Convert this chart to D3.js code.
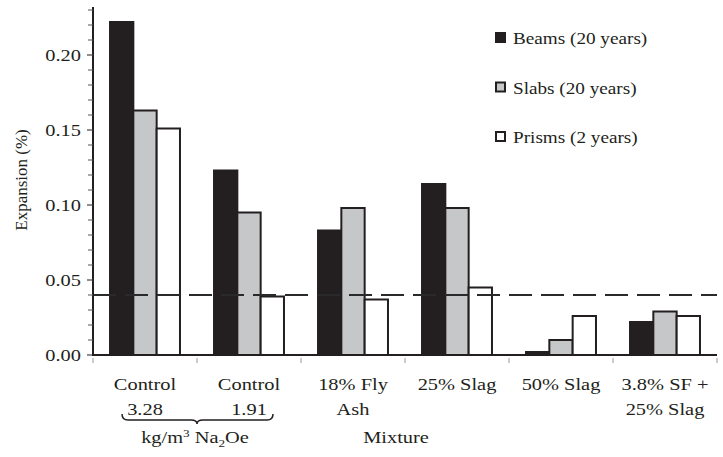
<!DOCTYPE html>
<html>
<head>
<meta charset="utf-8">
<script src="https://cdn.jsdelivr.net/npm/d3@7"></script>
<style>
  html, body { margin: 0; padding: 0; background: #fff; }
  svg { display: block; }
  text { font-family: "Liberation Serif", "DejaVu Serif", serif; fill: #231f20; }
</style>
</head>
<body>
<svg id="chart" width="723" height="457"></svg>
<script>
// Mixtures (two label lines each)
const categories = ["Control 3.28", "Control 1.91", "18% Fly Ash", "25% Slag", "50% Slag", "3.8% SF + 25% Slag"];
const labelLine1 = ["Control", "Control", "18% Fly", "25% Slag", "50% Slag", "3.8% SF +"];
const labelLine2 = ["3.28", "1.91", "Ash", "", "", "25% Slag"];

// Series
const seriesNames = ["Beams (20 years)", "Slabs (20 years)", "Prisms (2 years)"];
const beams  = [0.222, 0.123, 0.083, 0.114, 0.002, 0.022];
const slabs  = [0.163, 0.095, 0.098, 0.098, 0.010, 0.029];
const prisms = [0.151, 0.039, 0.037, 0.045, 0.026, 0.026];
const seriesValues = [beams, slabs, prisms];

// Expansion limit
const limit = [0.04];

// Axis ticks
const yMinorTicks = [0.01, 0.02, 0.03, 0.04, 0.06, 0.07, 0.08, 0.09, 0.11, 0.12, 0.13, 0.14,
                     0.16, 0.17, 0.18, 0.19, 0.21, 0.22, 0.23];
const yMajorTicks = [0.00, 0.05, 0.10, 0.15, 0.20];
const yTickLabels = ["0.00", "0.05", "0.10", "0.15", "0.20"];

const ink = "#231f20";
const fills = [ink, "#c6c7c9", "#ffffff"];
const SX = 1.2; // horizontal stretch of the serif lettering

const svg = d3.select("#chart");

const x0 = d3.scaleBand().domain(categories).range([93, 717]).paddingInner(0).paddingOuter(0);
const x1 = d3.scaleBand().domain(seriesNames).range([0, x0.bandwidth()]).paddingInner(0).paddingOuter(0.73);
const y = d3.scaleLinear().domain([0, 0.232]).range([355, 7]);

function label(g, x, yy, str, size, anchor) {
  return g.append("text")
    .attr("transform", `translate(${x},${yy}) scale(${SX},1)`)
    .attr("text-anchor", anchor || "middle")
    .style("font-size", size + "px")
    .text(str);
}

// Bars
const groups = svg.append("g").selectAll("g")
  .data(categories)
  .join("g")
  .attr("transform", d => `translate(${x0(d)},0)`);

groups.selectAll("rect")
  .data((d, i) => seriesNames.map((s, j) => ({ s, j, v: seriesValues[j][i] })))
  .join("rect")
  .attr("x", d => x1(d.s))
  .attr("y", d => y(d.v))
  .attr("width", x1.bandwidth())
  .attr("height", d => y(0) - y(d.v))
  .attr("fill", d => fills[d.j])
  .attr("stroke", ink)
  .attr("stroke-width", 2);

// Dashed limit line
svg.append("g").selectAll("line")
  .data(limit)
  .join("line")
  .attr("x1", 93).attr("x2", 717)
  .attr("y1", d => y(d)).attr("y2", d => y(d))
  .attr("stroke", "#2a2a2a")
  .attr("stroke-width", 2)
  .attr("stroke-dasharray", "23,9");

// Y axis
const yAxis = svg.append("g");
yAxis.append("line")
  .attr("x1", 93).attr("x2", 93)
  .attr("y1", y(0.232)).attr("y2", y(0) + 1)
  .attr("stroke", ink).attr("stroke-width", 2);
yAxis.selectAll("line.minor")
  .data(yMinorTicks)
  .join("line")
  .attr("class", "minor")
  .attr("x1", 88).attr("x2", 93)
  .attr("y1", d => y(d)).attr("y2", d => y(d))
  .attr("stroke", "#555").attr("stroke-width", 1);
yAxis.selectAll("line.major")
  .data(yMajorTicks)
  .join("line")
  .attr("class", "major")
  .attr("x1", 87).attr("x2", 93)
  .attr("y1", d => y(d)).attr("y2", d => y(d))
  .attr("stroke", "#444").attr("stroke-width", 1.2);
yMajorTicks.forEach((t, i) => {
  label(yAxis, 81, y(t) + 6, yTickLabels[i], 17, "end");
});

svg.append("text")
  .attr("transform", `translate(27,180) rotate(-90)`)
  .attr("text-anchor", "middle")
  .style("font-size", "17px")
  .text("Expansion (%)");

// X axis
const xAxis = svg.append("g");
xAxis.append("line")
  .attr("x1", 92).attr("x2", 717)
  .attr("y1", y(0)).attr("y2", y(0))
  .attr("stroke", ink).attr("stroke-width", 2);
const xTicks = categories.map(c => x0(c)).concat([x0(categories[categories.length - 1]) + x0.bandwidth()]);
xAxis.selectAll("line.tick")
  .data(xTicks)
  .join("line")
  .attr("class", "tick")
  .attr("x1", d => d).attr("x2", d => d)
  .attr("y1", y(0) + 3).attr("y2", y(0) + 8)
  .attr("stroke", "#999").attr("stroke-width", 1);

categories.forEach((c, i) => {
  const cx = x0(c) + x0.bandwidth() / 2;
  label(xAxis, cx, 390, labelLine1[i], 17);
  if (labelLine2[i]) label(xAxis, cx, 415, labelLine2[i], 17);
});

// Brace grouping the two control mixtures
const bL = x0(categories[0]) + 29, bR = x0(categories[1]) + x0.bandwidth() - 28, bM = x0(categories[1]);
svg.append("path")
  .attr("d", `M${bL},414 Q${bL},420 ${bL + 6},420 L${bM - 6},420 Q${bM},420 ${bM},424 Q${bM},420 ${bM + 6},420 L${bR - 6},420 Q${bR},420 ${bR},414`)
  .attr("fill", "none")
  .attr("stroke", ink)
  .attr("stroke-width", 1.5);

// Units under the brace
const unit = svg.append("text")
  .attr("transform", `translate(${bM - 2},443) scale(${SX},1)`)
  .attr("text-anchor", "middle")
  .style("font-size", "17px");
unit.append("tspan").text("kg/m");
unit.append("tspan").attr("dy", -6).style("font-size", "11px").text("3");
unit.append("tspan").attr("dy", 6).text(" Na");
unit.append("tspan").attr("dy", 4).style("font-size", "11px").text("2");
unit.append("tspan").attr("dy", -4).text("Oe");

label(svg, 396, 443, "Mixture", 17);

// Legend
const legend = svg.append("g");
seriesNames.forEach((s, i) => {
  const ly = 38 + i * 49.5;
  legend.append("rect")
    .attr("x", 496).attr("y", ly - 5)
    .attr("width", 9).attr("height", 9)
    .attr("fill", fills[i])
    .attr("stroke", ink).attr("stroke-width", 2);
  label(legend, 513, ly + 6, s, 16, "start");
});
</script>
</body>
</html>
